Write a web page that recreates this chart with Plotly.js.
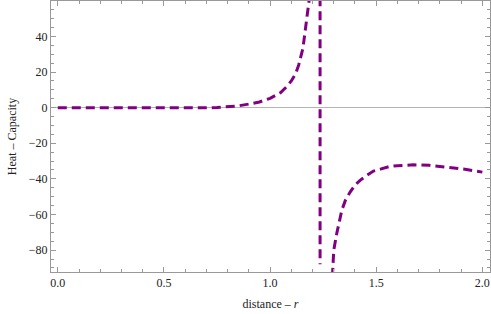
<!DOCTYPE html>
<html>
<head>
<meta charset="utf-8">
<script src="https://cdn.plot.ly/plotly-3.0.1.min.js"></script>
<style>html,body{margin:0;padding:0;background:#fff;}#plot{width:491px;height:314px;}</style>
</head>
<body>
<div id="plot"></div>
<script>
// distance r and heat capacity values (pole near r = 1.2355)
var rValues = [0, 0.1, 0.2, 0.3, 0.4, 0.5, 0.6, 0.7, 0.75, 0.8, 0.85, 0.9, 0.95, 1.0, 1.05, 1.08, 1.1, 1.12, 1.135, 1.155, 1.168, 1.18, 1.19, 1.2355,
               1.2355, 1.27, 1.293, 1.30, 1.314, 1.325, 1.338, 1.355, 1.377, 1.40, 1.424, 1.45, 1.487, 1.52, 1.565, 1.6, 1.675, 1.75, 1.8, 1.925, 2.0];
var heatCapacity = [0, -0.05, -0.1, -0.2, -0.3, -0.35, -0.3, -0.1, 0.1, 0.5, 1.0, 2.0, 3.2, 5.2, 8.5, 12, 15, 19, 24, 33.5, 44.5, 55, 66, 1000,
               -88, -150, -90.3, -80, -70.7, -64, -57.6, -52, -47.4, -43.5, -40.8, -38.5, -35.6, -34.5, -33.0, -32.6, -32.1, -32.4, -33.0, -34.7, -36.2];
var xTickVals = [0, 0.5, 1, 1.5, 2];
var xTickText = ['0.0', '0.5', '1.0', '1.5', '2.0'];
var yTickVals = [-80, -60, -40, -20, 0, 20, 40];
var yTickText = ['\u221280', '\u221260', '\u221240', '\u221220', '0', '20', '40'];

var fam = 'Liberation Serif, DejaVu Serif, serif';
var font = {family: fam, size: 12, color: '#222'};
var frame = '#999';

Plotly.newPlot('plot', [{
  x: rValues.slice(0, 25), y: heatCapacity.slice(0, 25), mode: 'lines', type: 'scatter',
  line: {color: '#800080', width: 3, dash: '9px,5px'},
  hoverinfo: 'skip', showlegend: false
}, {
  x: rValues.slice(25), y: heatCapacity.slice(25), mode: 'lines', type: 'scatter',
  line: {color: '#800080', width: 3, dash: '9px,5px'},
  hoverinfo: 'skip', showlegend: false
}], {
  width: 491, height: 314,
  margin: {l: 51, r: 1, t: 1, b: 42},
  paper_bgcolor: '#fff', plot_bgcolor: '#fff',
  font: font,
  xaxis: {
    range: [-0.032, 2.036], showgrid: false, zeroline: false,
    showline: true, linecolor: frame, linewidth: 1, mirror: 'allticks',
    ticks: 'inside', ticklen: 5, tickcolor: frame, tickwidth: 1,
    tickvals: xTickVals, ticktext: xTickText, tickfont: font,
    minor: {dtick: 0.1, tick0: 0, ticks: 'inside', ticklen: 3, tickcolor: frame, tickwidth: 1, showgrid: false},
    title: {text: 'distance \u2013 <i>r</i>', font: font, standoff: 10},
    automargin: false
  },
  yaxis: {
    range: [-92.3, 59.9], showgrid: false,
    zeroline: true, zerolinecolor: '#b4b4b4', zerolinewidth: 1.5,
    showline: true, linecolor: frame, linewidth: 1, mirror: 'allticks',
    ticks: 'inside', ticklen: 5, tickcolor: frame, tickwidth: 1,
    tickvals: yTickVals, ticktext: yTickText, tickfont: font,
    minor: {dtick: 5, tick0: 0, ticks: 'inside', ticklen: 3, tickcolor: frame, tickwidth: 1, showgrid: false},
    title: {text: 'Heat \u2013 Capacity', font: font, standoff: 9},
    automargin: false
  }
}, {staticPlot: true});
</script>
</body>
</html>
